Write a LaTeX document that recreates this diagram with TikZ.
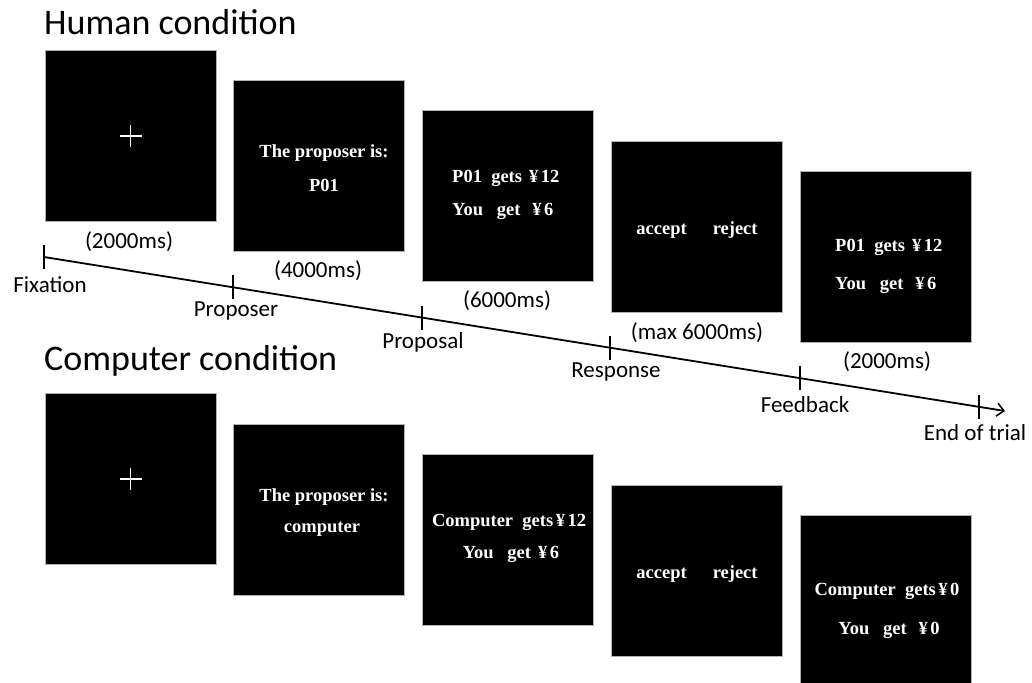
\documentclass[tikz,border=0pt]{standalone}
\usepackage{fontspec}
\setmainfont{Liberation Serif}
\newfontfamily\labfont{Carlito}
\usetikzlibrary{arrows.meta}
\newcommand{\yen}{\hspace{2.5pt}¥\hspace{2.5pt}}
\begin{document}
\begin{tikzpicture}[x=1pt,y=-1pt,
  scr/.style={draw=gray!60, line width=0.7pt, fill=black, minimum width=171pt, minimum height=171pt, inner sep=0pt},
  stim/.style={text=white, font=\bfseries\fontsize{18.5}{20}\selectfont, inner sep=0pt},
  ttl/.style={font=\labfont\fontsize{36}{40}\selectfont, anchor=west, inner sep=0pt},
  lab/.style={font=\labfont\fontsize{23}{26}\selectfont, inner sep=0pt},
  tickmark/.style={line width=1.5pt},
  axisline/.style={line width=1.8pt, -{Straight Barb[length=7pt, width=13pt, line width=1.5pt]}},
  fix/.style={white, line width=1.8pt}
]
\useasboundingbox (0,0) rectangle (1032,682);
\clip (0,0) rectangle (1032,682);

% titles
\node[ttl] (th) at (44,22) {Human condition};
\node[ttl] (tc) at (44,361) {Computer condition};

% human condition screens
\node[scr] (h1) at (130.5,136) {};
\node[scr] (h2) at (319,166) {};
\node[scr] (h3) at (507.5,196) {};
\node[scr] (h4) at (696.5,227) {};
\node[scr] (h5) at (885.5,257) {};

\draw[fix] ([xshift=-11pt]h1.center) -- ([xshift=11pt]h1.center);
\draw[fix] ([yshift=-11pt]h1.center) -- ([yshift=11pt]h1.center);
\node[stim] (h2a) at (324,153) {The proposer is:};
\node[stim] (h2b) at (324,185) {P01};
\node[stim, anchor=west] (h3a) at (452,178) {P01\ \ gets\ \yen12};
\node[stim, anchor=west] (h3b) at (452,211) {You\ \ \ get\ \ \yen6};
\node[stim] (h4a) at (697,230) {accept\hspace{26pt}reject};
\node[stim, anchor=west] (h5a) at (835,247) {P01\ \ gets\ \yen12};
\node[stim, anchor=west] (h5b) at (835,285) {You\ \ \ get\ \ \yen6};

% durations
\node[lab] (d1) at (129,242) {(2000ms)};
\node[lab] (d2) at (318,271) {(4000ms)};
\node[lab] (d3) at (507,301) {(6000ms)};
\node[lab] (d4) at (697,333) {(max 6000ms)};
\node[lab] (d5) at (887,362) {(2000ms)};

% computer condition screens
\node[scr] (c1) at (130.5,479) {};
\node[scr] (c2) at (319,510) {};
\node[scr] (c3) at (507.5,540) {};
\node[scr] (c4) at (696.5,570.5) {};
\node[scr] (c5) at (885.5,601) {};

\draw[fix] ([xshift=-11pt]c1.center) -- ([xshift=11pt]c1.center);
\draw[fix] ([yshift=-11pt]c1.center) -- ([yshift=11pt]c1.center);
\node[stim] (c2a) at (324,497) {The proposer is:};
\node[stim] (c2b) at (322,529) {computer};
\node[stim] (c3a) at (509,522) {Computer\ \ gets\yen12};
\node[stim] (c3b) at (511,554) {You\ \ \ get\ \yen6};
\node[stim] (c4a) at (697,574) {accept\hspace{26pt}reject};
\node[stim] (c5a) at (887,591) {Computer\ \ gets\yen0};
\node[stim] (c5b) at (889,630) {You\ \ \ get\ \ \yen0};

% timeline
\coordinate (t0) at (44,257);
\coordinate (tend) at (1005,411);
\draw[axisline] (t0) -- (tend);
\path (t0) -- (tend)
  coordinate[pos=0.1967] (p1)
  coordinate[pos=0.3933] (p2)
  coordinate[pos=0.5890] (p3)
  coordinate[pos=0.7867] (p4)
  coordinate[pos=0.9730] (p5);
\foreach \p in {t0,p1,p2,p3,p4,p5}
  \draw[tickmark] ([yshift=12pt]\p) -- ([yshift=-12pt]\p);

\node[lab] (l0) at (50,285) {Fixation};
\node[lab] (l1) at (236,311) {Proposer};
\node[lab] (l2) at (423,342) {Proposal};
\node[lab] (l3) at (616,372) {Response};
\node[lab] (l4) at (805,405) {Feedback};
\node[lab] (l5) at (975,433) {End of trial};
\end{tikzpicture}
\end{document}
